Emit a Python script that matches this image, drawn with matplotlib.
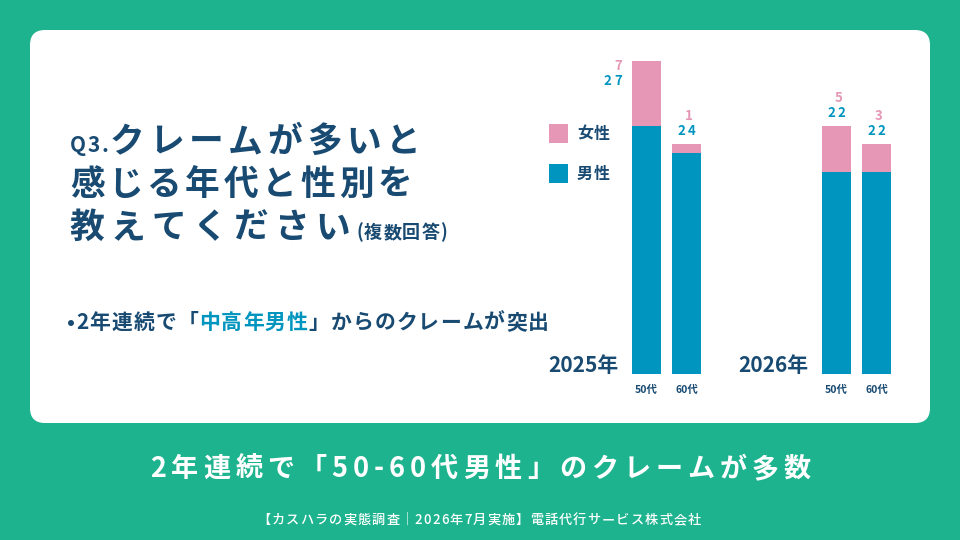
import matplotlib
matplotlib.use("Agg")
import matplotlib.pyplot as plt
from matplotlib.patches import FancyBboxPatch, Rectangle
from matplotlib import font_manager
from matplotlib.font_manager import FontProperties

plt.rcParams['font.family'] = ['Noto Sans CJK JP', 'DejaVu Sans']

# ---- data ----
years = ["2025年", "2026年"]
ages = ["50代", "60代"]
male = [[27, 24], [22, 22]]
female = [[7, 1], [5, 3]]
series_names = ["女性", "男性"]

GREEN = "#1DB38E"
PINK = "#E597B5"
BLUE = "#0095BF"
NAVY = "#184A72"

W, H = 960, 540
DPI = 100
fig = plt.figure(figsize=(9.6, 5.4), dpi=DPI)
fig.patch.set_facecolor(GREEN)

bg = fig.add_axes([0, 0, 1, 1])
bg.set_xlim(0, W)
bg.set_ylim(H, 0)
bg.axis("off")

card = FancyBboxPatch((45, 45), 870, 363, boxstyle="round,pad=15",
                      facecolor="white", edgecolor="none")
bg.add_patch(card)

fig.canvas.draw()
renderer = fig.canvas.get_renderer()

_font_cache = {}


def advance(ch, size, weight):
    """Horizontal advance of a character in pixels."""
    try:
        if weight not in _font_cache:
            fp = FontProperties(family='Noto Sans CJK JP', weight=weight)
            _font_cache[weight] = font_manager.get_font(font_manager.findfont(fp))
        f = _font_cache[weight]
        f.set_size(size, DPI)
        g = f.load_char(ord(ch))
        return g.linearHoriAdvance / 65536.0
    except Exception:
        t = bg.text(0, 0, ch, fontsize=size, fontweight=weight)
        w = t.get_window_extent(renderer=renderer).width
        t.remove()
        return w


def tracked(x, y, pieces, end=None, tracking=0.0, weight="bold", ha="left"):
    """Draw pieces (text, size, color[, extra]) char by char with letter spacing.
    If end is given, spacing is chosen so the run ends at x=end."""
    chars = []
    for p in pieces:
        s, size, color = p[:3]
        extra = p[3] if len(p) > 3 else None
        for ch in s:
            chars.append((ch, size, color, advance(ch, size, weight), extra))
    natural = sum(c[3] for c in chars)
    fixed = [c for c in chars if c[4] is not None]
    free = [c for c in chars if c[4] is None]
    if end is not None:
        natural_fixed = sum(c[4] for c in fixed)
        tracking = (end - x - natural - natural_fixed) / max(len(free) - 1, 1)
    total = natural + sum((c[4] if c[4] is not None else tracking) for c in chars[:-1])
    if ha == "center":
        x = x - total / 2
    elif ha == "right":
        x = x - total
    for ch, size, color, adv, extra in chars:
        bg.text(x, y, ch, fontsize=size, color=color, fontweight=weight,
                va="baseline", ha="left")
        x += adv + (extra if extra is not None else tracking)
    return x


# title
tracked(70, 152, [("Q3.", 15, NAVY, 1.5), ("クレームが多いと", 25, NAVY)], end=421)
tracked(70, 195, [("感じる年代と性別を", 25, NAVY)], end=412)
tracked(70, 238, [("教えてください", 25, NAVY), ("(複数回答)", 13, NAVY, 1.0)], end=442)

# bullet line
tracked(67, 329, [("•2年連続で「", 15, NAVY), ("中高年男性", 15, BLUE),
                  ("」からのクレームが突出", 15, NAVY)], end=549)

# bottom headline & footer
tracked(150, 477, [("2年連続で「50-60代男性」のクレームが多数", 19.5, "white")],
        end=811)
tracked(257, 524, [("【カスハラの実態調査｜2026年7月実施】電話代行サービス株式会社",
                    9.5, "white")], end=701, weight="medium")

# legend
leg_colors = [PINK, BLUE]
for i, (name, c) in enumerate(zip(series_names, leg_colors)):
    y0 = 124 + i * 40
    bg.add_patch(Rectangle((549, y0), 19, 19, facecolor=c, edgecolor="none"))
    tracked(577, y0 + 15, [(name, 11.5, NAVY)], tracking=1)

# ---- bar chart axes ----
base_px, top_px = 374, 30
scale = 9.2  # px per unit
left_px, right_px = 540, 930
ax = fig.add_axes([left_px / W, (H - base_px) / H, (right_px - left_px) / W,
                   (base_px - top_px) / H])
ax.set_xlim(left_px, right_px)
ax.set_ylim(0, (base_px - top_px) / scale)
ax.axis("off")
ax.patch.set_alpha(0)

to_bg = ax.transData + bg.transData.inverted()

group_start = [646.5, 836.5]
gap = 40
bw = 29
for g, yr in enumerate(years):
    for i, age in enumerate(ages):
        xc = group_start[g] + i * gap
        m = male[g][i]
        f = female[g][i]
        ax.bar(xc, m, width=bw, color=BLUE, linewidth=0)
        ax.bar(xc, f, width=bw, bottom=m, color=PINK, linewidth=0)
        tot = m + f
        if g == 0 and i == 0:
            px, py = to_bg.transform((xc - bw / 2, tot))
            tracked(px - 10, py + 9, [(str(f), 9.5, PINK)], tracking=2.5, ha="right")
            tracked(px - 10, py + 24, [(str(m), 9.5, BLUE)], tracking=2.5, ha="right")
        else:
            px, py = to_bg.transform((xc, tot))
            tracked(px + 2, py - 24, [(str(f), 9.5, PINK)], tracking=2.5, ha="center")
            tracked(px, py - 9, [(str(m), 9.5, BLUE)], tracking=2.5, ha="center")
        bg.text(xc, 390, age, fontsize=7.5, color=NAVY, fontweight="bold",
                ha="center", va="center")
    bg.text(group_start[g] - 98, 366, yr, fontsize=15, color=NAVY,
            fontweight="bold", ha="left", va="center")

fig.savefig("out.png", dpi=DPI, facecolor=GREEN)
